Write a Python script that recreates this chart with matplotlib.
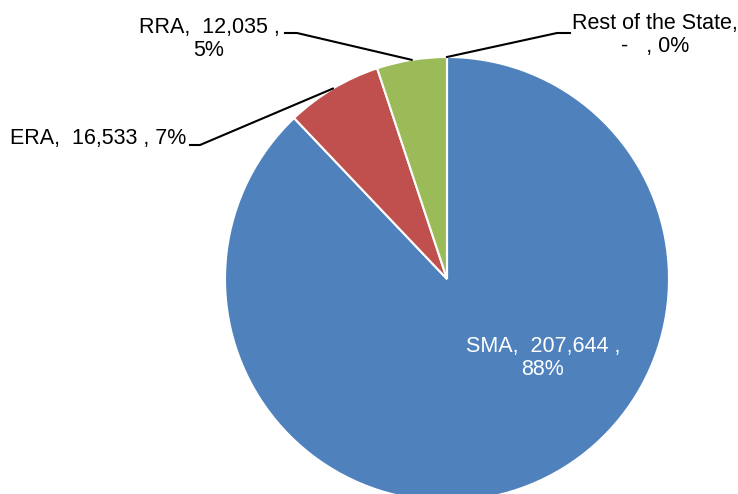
import matplotlib
matplotlib.use("Agg")
import matplotlib.pyplot as plt
import numpy as np

categories = ["SMA", "ERA", "RRA", "Rest of the State"]
values = [207644, 16533, 12035, 0]
value_labels = ["207,644", "16,533", "12,035", "-"]
pct_labels = ["88%", "7%", "5%", "0%"]
colors = ["#4F81BD", "#C0504D", "#9BBB59", "#8064A2"]

plt.rcParams['font.family'] = ['Liberation Sans', 'DejaVu Sans']

W, H = 738, 494
fig = plt.figure(figsize=(W / 100, H / 100), dpi=100)
ax = fig.add_axes([0, 0, 1, 1])
CX, CY, R = 447, 279, 222

def P(px, py):
    return ((px - CX) / R, (CY - py) / R)

wedges, _ = ax.pie(values, colors=colors, startangle=90, counterclock=False,
                   radius=1.0, center=(0, 0),
                   wedgeprops=dict(edgecolor='white', linewidth=1.5))
ax.set_xlim(-CX / R, (W - CX) / R)
ax.set_ylim(-(H - CY) / R, CY / R)
ax.set_aspect('auto')
ax.axis('off')

fs = 15.5
ls = 1.18
# SMA inside label
tx, ty = P(543, 358)
ax.text(tx, ty, f"{categories[0]},  {value_labels[0]} ,\n{pct_labels[0]}", color='white',
        fontsize=fs, ha='center', va='center', linespacing=ls)

def anchor(w, r=1.0):
    ang = np.deg2rad((w.theta1 + w.theta2) / 2)
    return (r * np.cos(ang), r * np.sin(ang))

lw = 1.5
# ERA
a = anchor(wedges[1], 1.0)
e1 = P(200, 145); e2 = P(190, 145)
ax.plot([a[0], e1[0], e2[0]], [a[1], e1[1], e2[1]], color='black', lw=lw)
t = P(186, 138)
ax.text(t[0], t[1], f"{categories[1]},  {value_labels[1]} , {pct_labels[1]}",
        fontsize=fs, ha='right', va='center')

# RRA
a = anchor(wedges[2], 1.0)
e1 = P(297, 33); e2 = P(285, 33)
ax.plot([a[0], e1[0], e2[0]], [a[1], e1[1], e2[1]], color='black', lw=lw)
t = P(209, 39)
ax.text(t[0], t[1], f"{categories[2]},  {value_labels[2]} ,\n{pct_labels[2]}",
        fontsize=fs, ha='center', va='center', linespacing=ls)

# Rest of the State
a = anchor(wedges[3], 1.0)
e1 = P(557, 33); e2 = P(570, 33)
ax.plot([a[0], e1[0], e2[0]], [a[1], e1[1], e2[1]], color='black', lw=lw)
t = P(655, 35)
ax.text(t[0], t[1], f"{categories[3]},\n{value_labels[3]}   , {pct_labels[3]}",
        fontsize=fs, ha='center', va='center', linespacing=ls)

fig.savefig("out.png", dpi=100)
